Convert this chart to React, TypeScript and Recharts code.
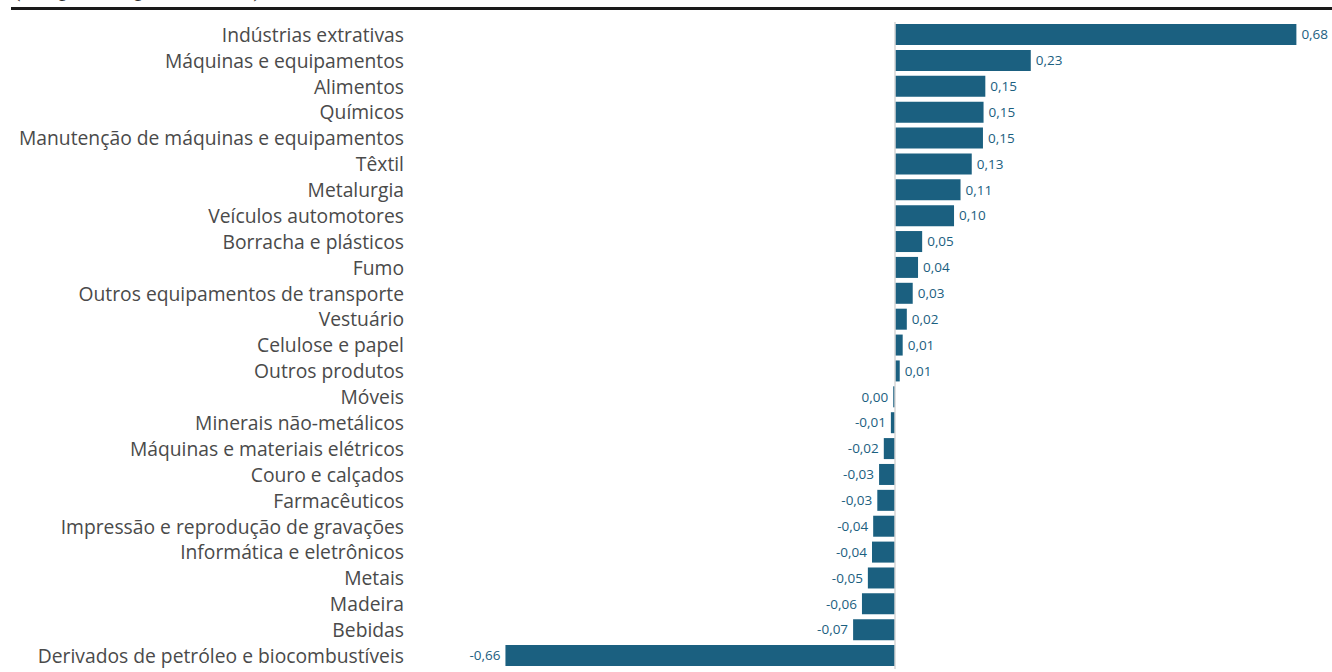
import { Bar, BarChart, LabelList, ReferenceLine, XAxis, YAxis } from 'recharts';

const categories = [
  'Indústrias extrativas',
  'Máquinas e equipamentos',
  'Alimentos',
  'Químicos',
  'Manutenção de máquinas e equipamentos',
  'Têxtil',
  'Metalurgia',
  'Veículos automotores',
  'Borracha e plásticos',
  'Fumo',
  'Outros equipamentos de transporte',
  'Vestuário',
  'Celulose e papel',
  'Outros produtos',
  'Móveis',
  'Minerais não-metálicos',
  'Máquinas e materiais elétricos',
  'Couro e calçados',
  'Farmacêuticos',
  'Impressão e reprodução de gravações',
  'Informática e eletrônicos',
  'Metais',
  'Madeira',
  'Bebidas',
  'Derivados de petróleo e biocombustíveis'
];

const values = [
  0.68, 0.23, 0.153, 0.15, 0.149, 0.13, 0.111, 0.1, 0.046, 0.039, 0.03, 0.02, 0.013, 0.008, -0.003,
  -0.007, -0.019, -0.027, -0.03, -0.037, -0.039, -0.046, -0.056, -0.071, -0.66
];

const data = categories.map((name, i) => ({ name, value: values[i] }));

const BAR_COLOR = '#1b6080';

const fmt = (v: number) => {
  if (Math.abs(v) < 0.005) return '0,00';
  return v.toFixed(2).replace('.', ',');
};

const ValueLabel = (props: any) => {
  const { x, y, width, height, value } = props;
  const left = Math.min(x, x + width);
  const right = Math.max(x, x + width);
  const neg = value < 0;
  return (
    <text
      x={neg ? left - 5 : right + 5}
      y={y + height / 2}
      dy="0.35em"
      textAnchor={neg ? 'end' : 'start'}
      fill={BAR_COLOR}
      fontSize={13.5}
      fontFamily='"Open Sans", sans-serif'
    >
      {fmt(value)}
    </text>
  );
};

export default function App() {
  return (
    <div style={{ position: 'absolute', left: 0, top: 0, width: 1332, height: 672, overflow: 'hidden', background: '#fff' }}>
      <div
        style={{
          position: 'absolute',
          left: 12,
          top: -25,
          fontFamily: '"Liberation Serif", serif',
          fontSize: 26,
          lineHeight: '26px',
          color: '#333',
          whiteSpace: 'nowrap'
        }}
      >
        (em pontos percentuais)
      </div>
      <div style={{ position: 'absolute', left: 11, right: 0, top: 7, height: 3, background: '#1a1a1a' }} />
      <div style={{ position: 'absolute', left: 0, top: 0 }}>
        <BarChart
          width={1332}
          height={672}
          data={data}
          layout="vertical"
          margin={{ top: 22, right: 12, bottom: 3, left: 0 }}
        >
          <XAxis type="number" domain={[-0.82, 0.72]} hide />
          <YAxis
            type="category"
            dataKey="name"
            width={411}
            axisLine={false}
            tickLine={false}
            tickSize={0}
            tickMargin={7}
            interval={0}
            tick={{ fill: '#4a4a4a', fontSize: 19.3, fontFamily: '"Open Sans", sans-serif' }}
          />
          <ReferenceLine x={0} stroke="#d6d6d6" strokeWidth={1.5} />
          <Bar dataKey="value" fill={BAR_COLOR} barSize={21} isAnimationActive={false}>
            <LabelList dataKey="value" content={ValueLabel} />
          </Bar>
        </BarChart>
      </div>
    </div>
  );
}
